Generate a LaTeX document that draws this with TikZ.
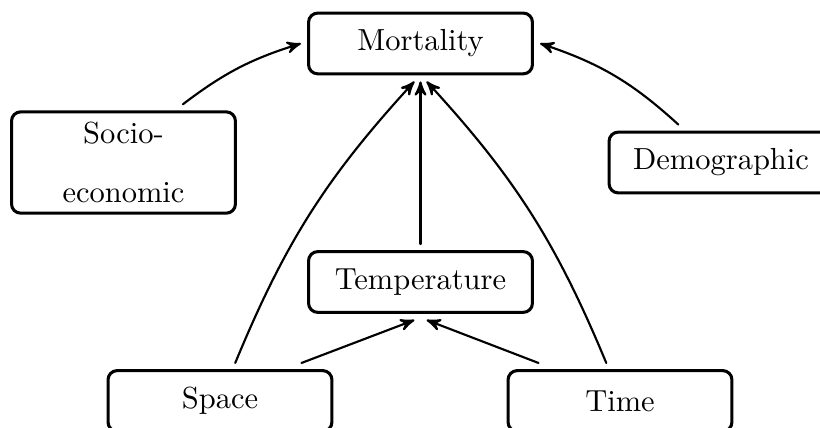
\documentclass[tikz,border=0pt]{standalone}
\usetikzlibrary{arrows}
\begin{document}
\begin{tikzpicture}[line cap=round,line join=round,>=stealth',x=1cm,y=1cm,
    box/.style={draw,line width=1pt,rounded corners=3pt,minimum width=2.58cm,minimum height=0.7cm,outer sep=2.5pt,align=center},
    link/.style={->,line width=0.7pt}]
	\clip (0,0) rectangle (9.45,-4.921);
	% factors
	\node[box] (mort) at (4.846,-0.501) {Mortality};
	\node[box] (temp) at (4.846,-3.250) {Temperature};
	\node[box] (socio) at (1.423,-1.873) {Socio-\\[2.6mm]economic};
	\node[box] (demo) at (8.309,-1.873) {Demographic};
	\node[box] (space) at (2.535,-4.621) {Space};
	\node[box] (time) at (7.145,-4.621) {Time};
	% links
	\draw [link] (temp.north) -- (mort.south);
	\draw [link] (space.25) -- ([xshift=-2pt]temp.south);
	\draw [link] (time.155) -- ([xshift=2pt]temp.south);
	\draw [link] ([xshift=5pt]space.north) to[bend left=10] ([xshift=-2pt]mort.south);
	\draw [link] ([xshift=-4.5pt]time.north) to[bend right=10] ([xshift=2pt]mort.south);
	\draw [link] ([xshift=19.5pt]socio.north) to[bend left=10] (mort.west);
	\draw [link] ([xshift=-14pt]demo.north) to[bend right=12] (mort.east);
\end{tikzpicture}
\end{document}
